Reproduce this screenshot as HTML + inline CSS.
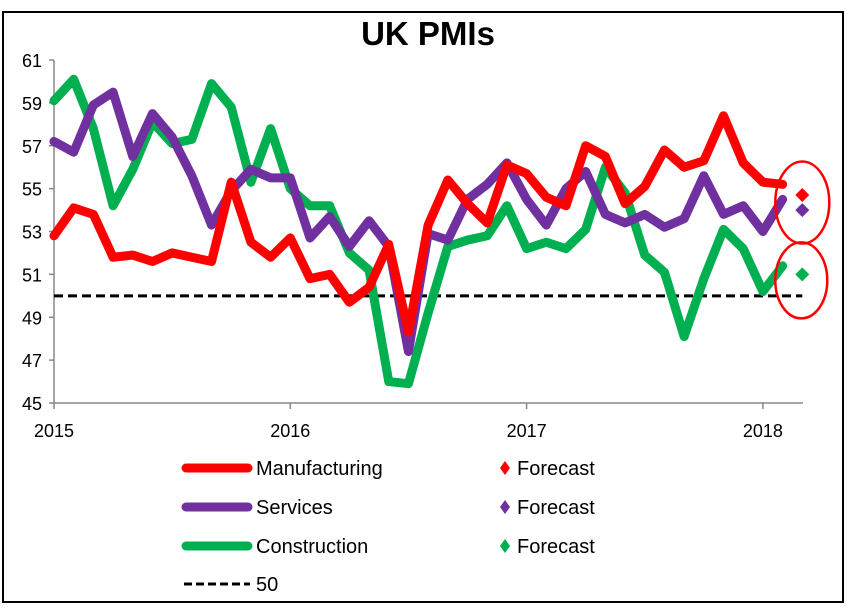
<!DOCTYPE html>
<html><head><meta charset="utf-8"><style>
body{margin:0;background:#fff;}
svg{display:block;font-family:"Liberation Sans",Arial,sans-serif;}
</style></head><body>
<svg id="chart" width="847" height="608" viewBox="0 0 847 608">
<rect x="3" y="12" width="840" height="590" fill="#fff" stroke="#000" stroke-width="2"/>
<text x="428" y="45" text-anchor="middle" font-size="33" font-weight="bold">UK PMIs</text>
<g id="grid"></g>
<g id="series"></g>
<g id="legend">
 <line x1="186" y1="468" x2="248" y2="468" stroke="#ff0000" stroke-width="9" stroke-linecap="round"/>
 <text x="256" y="475" font-size="20">Manufacturing</text>
 <line x1="186" y1="507" x2="248" y2="507" stroke="#7030a0" stroke-width="9" stroke-linecap="round"/>
 <text x="256" y="514" font-size="20">Services</text>
 <line x1="186" y1="546" x2="248" y2="546" stroke="#00b050" stroke-width="9" stroke-linecap="round"/>
 <text x="256" y="553" font-size="20">Construction</text>
 <line x1="184" y1="584" x2="250" y2="584" stroke="#000" stroke-width="3" stroke-dasharray="8,4"/>
 <text x="256" y="591" font-size="20">50</text>
 <path d="M505,461 l5,7 l-5,7 l-5,-7z" fill="#ff0000"/>
 <text x="517" y="475" font-size="20">Forecast</text>
 <path d="M505,500 l5,7 l-5,7 l-5,-7z" fill="#7030a0"/>
 <text x="517" y="514" font-size="20">Forecast</text>
 <path d="M505,539 l5,7 l-5,7 l-5,-7z" fill="#00b050"/>
 <text x="517" y="553" font-size="20">Forecast</text>
</g>
</svg>
<script>
const yTicks=[45,47,49,51,53,55,57,59,61];
const xTickLabels=["2015","2016","2017","2018"];
const manufacturing=[52.8,54.1,53.8,51.8,51.9,51.6,52.0,51.8,51.6,55.3,52.5,51.8,52.7,50.8,51.0,49.7,50.4,52.4,48.3,53.3,55.4,54.3,53.4,56.1,55.7,54.6,54.2,57.0,56.5,54.3,55.1,56.8,56.0,56.3,58.4,56.2,55.3,55.2];
const services=[57.2,56.7,58.9,59.5,56.5,58.5,57.4,55.6,53.3,54.9,55.9,55.5,55.5,52.7,53.7,52.3,53.5,52.3,47.4,52.9,52.6,54.5,55.2,56.2,54.5,53.3,55.0,55.8,53.8,53.4,53.8,53.2,53.6,55.6,53.8,54.2,53.0,54.5];
const construction=[59.1,60.1,57.8,54.2,55.9,58.1,57.1,57.3,59.9,58.8,55.3,57.8,55.0,54.2,54.2,52.0,51.2,46.0,45.9,49.2,52.3,52.6,52.8,54.2,52.2,52.5,52.2,53.1,56.0,54.8,51.9,51.1,48.1,50.8,53.1,52.2,50.2,51.4];
const forecasts=[54.7,54.0,51.0];
const refLevel=[50];
const NS="http://www.w3.org/2000/svg";
const X0=54,MW=236.3/12,Y0=403,YT=60,YMIN=45,YMAX=61;
function xs(i){return X0+i*MW;}
function ys(v){return Y0-(v-YMIN)/(YMAX-YMIN)*(Y0-YT);}
function mk(tag,attrs,parent){const e=document.createElementNS(NS,tag);for(const k in attrs)e.setAttribute(k,attrs[k]);parent.appendChild(e);return e;}
const grid=document.getElementById('grid'),ser=document.getElementById('series');
let e=mk('line',{x1:X0,y1:YT,x2:X0,y2:Y0,stroke:'#888','stroke-width':1.5},grid);


e=mk('line',{x1:X0,y1:Y0,x2:803,y2:Y0,stroke:'#888','stroke-width':1.5},grid);


yTicks.forEach(v=>{
 mk('line',{x1:X0-5,y1:ys(v),x2:X0,y2:ys(v),stroke:'#888','stroke-width':1.5},grid);
 const t=mk('text',{x:X0-22,y:ys(v)+7,'text-anchor':'middle','font-size':18},grid);
 t.textContent=v;
 
 
});
xTickLabels.forEach((l,i)=>{
 const x=xs(i*12);
 mk('line',{x1:x,y1:Y0,x2:x,y2:Y0+6,stroke:'#888','stroke-width':1.5},grid);
 const t=mk('text',{x:x,y:437,'text-anchor':'middle','font-size':18},grid);
 t.textContent=l;
 
 
});
function line(data,color,name){
 const p=mk('polyline',{points:data.map((v,i)=>xs(i)+','+ys(v)).join(' '),fill:'none',stroke:color,'stroke-width':9,'stroke-linejoin':'round','stroke-linecap':'round'},ser);
 
 
}
const ref=mk('line',{x1:X0,y1:ys(refLevel[0]),x2:xs(38),y2:ys(refLevel[0]),stroke:'#000','stroke-width':3,'stroke-dasharray':'9,5'},ser);


line(construction,'#00b050','construction-line');
line(services,'#7030a0','services-line');
line(manufacturing,'#ff0000','manufacturing-line');
const fcol=['#ff0000','#7030a0','#00b050'],fname=['manufacturing','services','construction'];
forecasts.forEach((v,k)=>{
 const x=xs(38),y=ys(v);
 const d=mk('path',{d:`M${x},${y-7} l7,7 l-7,7 l-7,-7z`,fill:fcol[k]},ser);
 
 
});
let c=mk('ellipse',{cx:xs(38),cy:(ys(forecasts[0])+ys(forecasts[1]))/2,rx:27,ry:41,fill:'none',stroke:'#ff0000','stroke-width':2.5},ser);


c=mk('ellipse',{cx:xs(38)-1,cy:ys(forecasts[2])+6,rx:26,ry:38,fill:'none',stroke:'#ff0000','stroke-width':2.5},ser);


</script>
</body></html>
